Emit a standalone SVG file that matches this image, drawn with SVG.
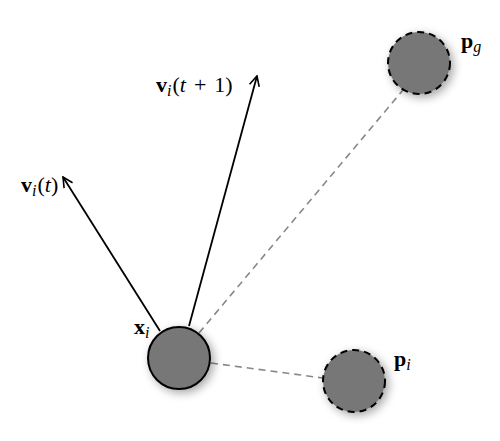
<svg xmlns="http://www.w3.org/2000/svg" width="500" height="441" viewBox="0 0 500 441">
<defs>
<filter id="sh" x="-50%" y="-50%" width="200%" height="200%">
<feGaussianBlur in="SourceAlpha" stdDeviation="5"/>
<feOffset dx="3" dy="3" result="b"/>
<feComponentTransfer><feFuncA type="linear" slope="0.35"/></feComponentTransfer>
<feMerge><feMergeNode/><feMergeNode in="SourceGraphic"/></feMerge>
</filter>
<marker id="ah" viewBox="0 0 12 12" refX="11" refY="6" markerWidth="12" markerHeight="12" markerUnits="userSpaceOnUse" orient="auto">
<path d="M1,1 L11,6 L1,11" fill="none" stroke="#000" stroke-width="1.6"/>
</marker>
<style>
.node{fill:#777;stroke:#000;stroke-width:2}
.dash{stroke-dasharray:7,5}
.lk{stroke:#888;stroke-width:1.6;stroke-dasharray:7,5;fill:none}
.vec{stroke:#000;stroke-width:1.8;fill:none;marker-end:url(#ah)}
text{font-family:"Liberation Serif","DejaVu Serif",serif;font-size:22px;fill:#000}
.b{font-weight:bold}
.it{font-style:italic}
</style>
</defs>
<rect width="500" height="441" fill="#fff"/>
<g id="connectors">
<line class="lk" x1="199" y1="333" x2="403" y2="90"/>
<line class="lk" x1="211" y1="363" x2="323" y2="378"/>
<line class="vec" x1="189" y1="326" x2="257" y2="76"/>
<line class="vec" x1="160" y1="331" x2="63" y2="177"/>
</g>
<g id="xi">
<circle class="node" cx="179" cy="358" r="31" filter="url(#sh)"/>
<text x="134" y="334"><tspan class="b">x</tspan><tspan class="it" font-size="16" dy="4">i</tspan></text>
</g>
<g id="pi">
<circle class="node dash" cx="354" cy="381" r="31" filter="url(#sh)"/>
<text x="394" y="366"><tspan class="b">p</tspan><tspan class="it" font-size="16" dy="4">i</tspan></text>
</g>
<g id="pg">
<circle class="node dash" cx="419" cy="63" r="31" filter="url(#sh)"/>
<text x="461" y="48"><tspan class="b">p</tspan><tspan class="it" font-size="16" dy="4">g</tspan></text>
</g>
<g id="labels">
<text x="156" y="92"><tspan class="b">v</tspan><tspan class="it" font-size="16" dy="4">i</tspan><tspan dy="-4" dx="1">(</tspan><tspan class="it">t</tspan><tspan dx="8">+</tspan><tspan dx="8">1)</tspan></text>
<text x="21" y="192"><tspan class="b">v</tspan><tspan class="it" font-size="16" dy="4">i</tspan><tspan dy="-4" dx="1">(</tspan><tspan class="it">t</tspan><tspan>)</tspan></text>
</g>
</svg>
